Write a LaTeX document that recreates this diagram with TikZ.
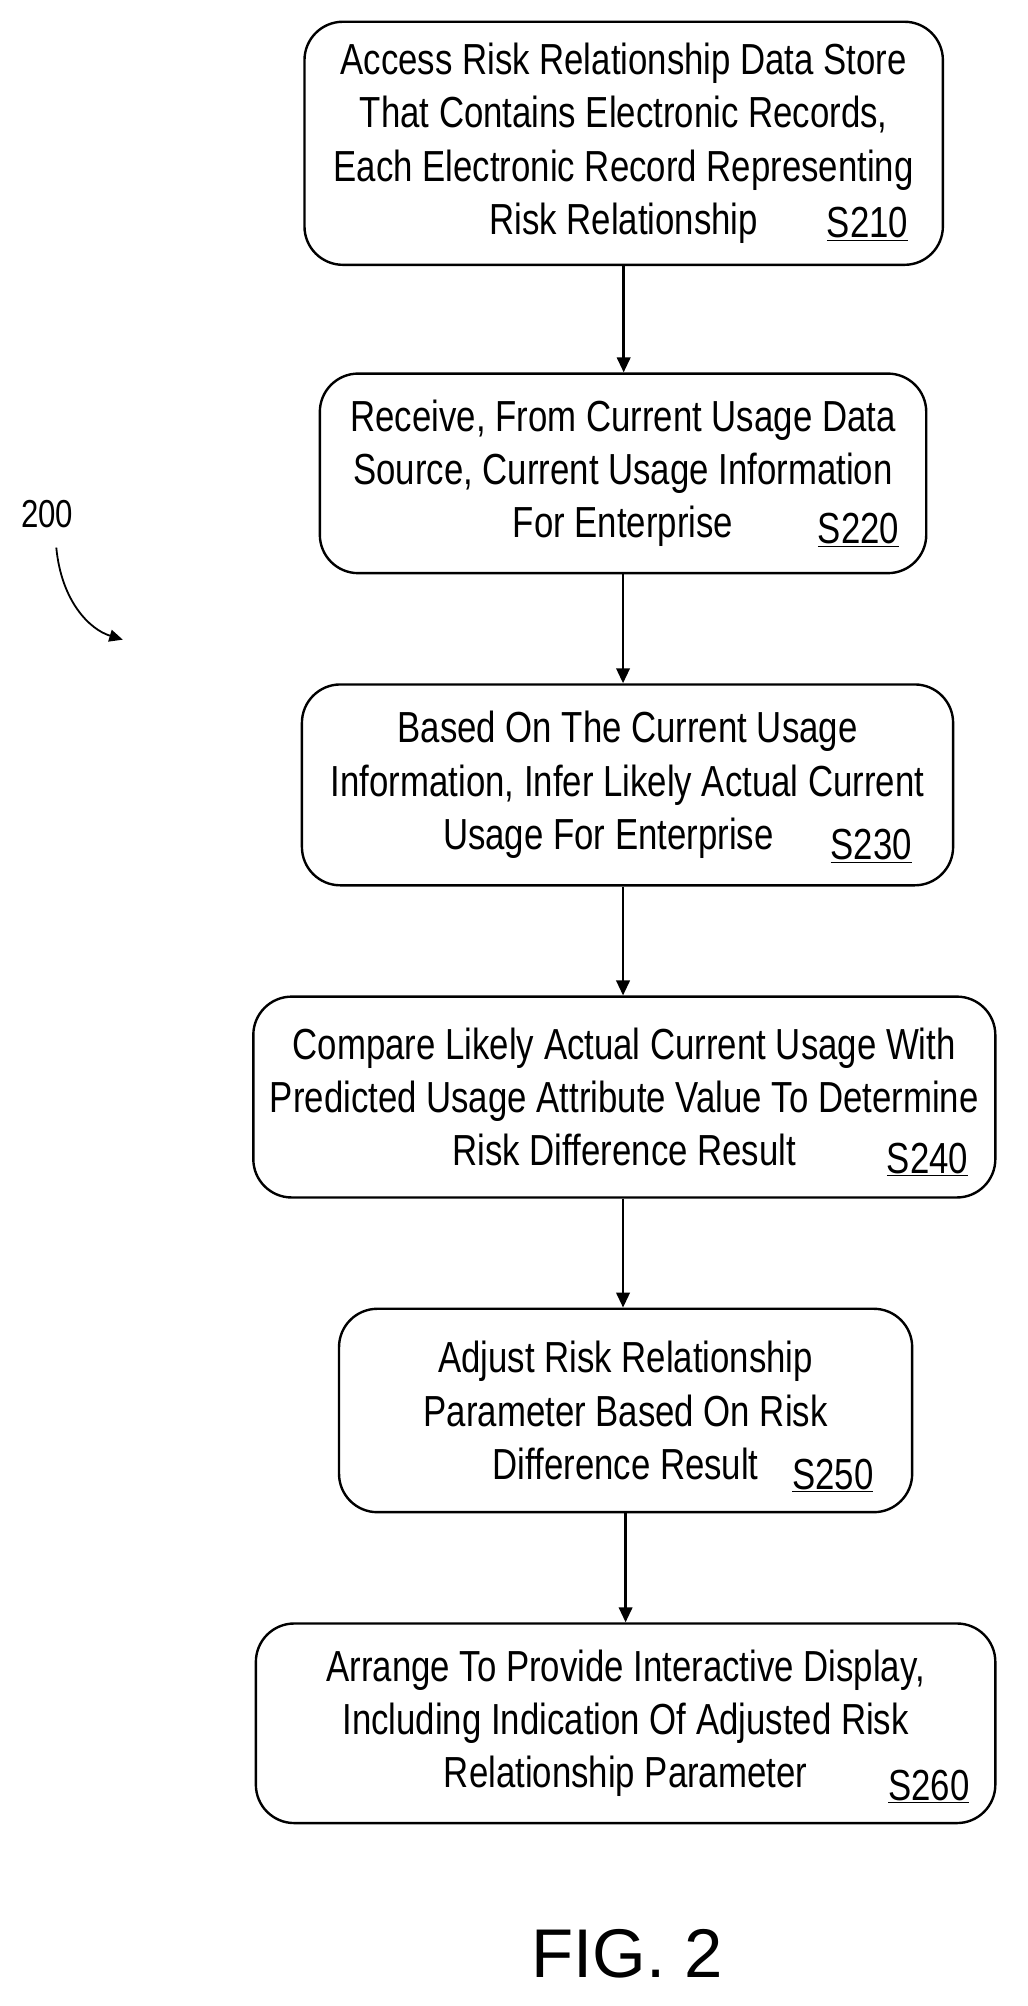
\documentclass[tikz,border=0pt]{standalone}
\usepackage{fontspec}
\setmainfont{Liberation Sans}
\newfontfamily\narrowf[FakeStretch=0.8]{Liberation Sans}
\usetikzlibrary{arrows.meta}
\begin{document}
\begin{tikzpicture}[x=0.03cm,y=-0.03cm,
  boxs/.style={draw,line width=1.6pt,rounded corners=0.9cm,inner sep=0pt},
  txt/.style={align=center,font=\narrowf\fontsize{29}{35.5}\selectfont,inner sep=0pt},
  lbl/.style={font=\narrowf\fontsize{29}{35.5}\selectfont,anchor=base east,inner sep=0pt},
  arr/.style={-{Triangle[length=10pt,width=9pt]},line width=1.6pt}]
\useasboundingbox (0,0) rectangle (803,1568);
% #1 name, #2 cx, #3 cy, #4 w, #5 h, #6 text, #7 label, #8 label right x, #9 label baseline y
\newcommand\stepbox[9]{%
  \node[boxs,minimum width=#4*0.03cm,minimum height=#5*0.03cm] (#1) at (#2,#3) {};
  \node[txt] (#1t) at (#1.center) {#6};
  \node[lbl] (#1l) at (#8,#9) {\underline{#7}};}
\stepbox{a}{487.5}{112}{499}{190}{Access Risk Relationship Data Store\\That Contains Electronic Records,\\Each Electronic Record Representing\\Risk Relationship}{S210}{710}{186}
\stepbox{b}{487}{370}{474}{156}{Receive, From Current Usage Data\\Source, Current Usage Information\\For Enterprise}{S220}{703}{425}
\stepbox{c}{490.5}{613.5}{509}{157}{Based On The Current Usage\\Information, Infer Likely Actual Current\\Usage For Enterprise\hspace*{0.9cm}}{S230}{713}{672}
\stepbox{d}{488}{857.5}{580}{157}{Compare Likely Actual Current Usage With\\Predicted Usage Attribute Value To Determine\\Risk Difference Result}{S240}{757}{917}
\stepbox{e}{489}{1102.5}{448}{159}{Adjust Risk Relationship\\Parameter Based On Risk\\Difference Result}{S250}{683}{1164}
\stepbox{f}{489}{1347}{578}{156}{Arrange To Provide Interactive Display,\\Including Indication Of Adjusted Risk\\Relationship Parameter}{S260}{758}{1407}
\draw[arr] (a.south) -- (a.south |- b.north);
\draw[arr] (b.south) -- (b.south |- c.north);
\draw[arr] (b.south |- c.south) -- (b.south |- d.north);
\draw[arr] (b.south |- d.south) -- (b.south |- e.north);
\draw[arr] (e.south) -- (e.south |- f.north);
\node[font=\narrowf\fontsize{26}{28}\selectfont] (n200) at (37,402) {200};
\coordinate (t200) at (96,500);
\draw[-{Triangle[length=9pt,width=8pt]},line width=1.2pt] (44,428) .. controls (48,470) and (70,492) .. (t200);
\node[font=\fontsize{46}{50}\selectfont] (fig) at (490,1527) {FIG. 2};
\end{tikzpicture}
\end{document}
